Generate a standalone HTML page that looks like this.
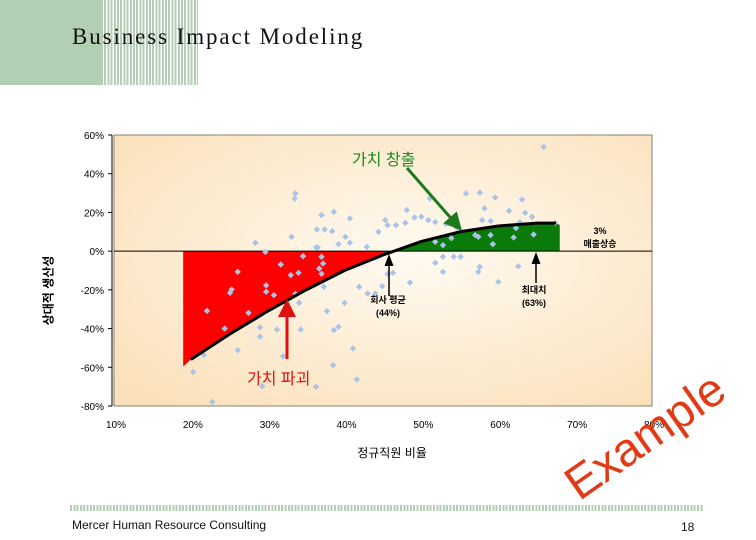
<!DOCTYPE html>
<html><head><meta charset="utf-8">
<style>
body{margin:0;width:756px;height:540px;background:#fff;overflow:hidden;position:relative;font-family:"Liberation Sans","Noto Sans CJK KR",sans-serif}
.abs{position:absolute}
</style></head>
<body>
<div class="abs" style="left:0;top:0;width:101px;height:85px;background:#b3cfb3"></div>
<div class="abs" style="left:101px;top:0;width:97px;height:85px;background:repeating-linear-gradient(90deg,#b3cfb3 0 2px,#fff 2px 3.2px)"></div>
<div class="abs" style="left:72px;top:24px;font-family:'Liberation Serif','Noto Serif CJK SC',serif;font-size:23px;color:#111;letter-spacing:1.9px">Business Impact Modeling</div>

<svg class="abs" style="left:0;top:0" width="756" height="540">
<defs>
<radialGradient id="bg" cx="0.55" cy="0.45" r="0.7">
<stop offset="0" stop-color="#fffaf1"/><stop offset="1" stop-color="#fbe1bb"/>
</radialGradient>
<marker id="ak" markerWidth="8" markerHeight="8" refX="4" refY="4" orient="auto"><path d="M0,1 L8,4 L0,7Z" fill="#000"/></marker>
<marker id="ag" markerWidth="6" markerHeight="6" refX="3" refY="3" orient="auto"><path d="M0,0 L6,3 L0,6Z" fill="#1a7a1a"/></marker>
<marker id="ar" markerWidth="6" markerHeight="6" refX="3" refY="3" orient="auto"><path d="M0,0 L6,3 L0,6Z" fill="#e01010"/></marker>
</defs>
<g id="g"></g>
</svg>

<div class="abs" style="left:-2px;top:282px;width:100px;text-align:center;transform:rotate(-90deg);font-size:12px;font-weight:bold;color:#000">상대적 생산성</div>
<div class="abs" style="left:342px;top:444px;width:100px;text-align:center;font-size:12px;color:#000">정규직원 비율</div>

<div class="abs" style="left:352px;top:146px;font-size:16px;color:#1a8a1a">가치 창출</div>
<div class="abs" style="left:247px;top:365px;font-size:16px;color:#e01010">가치 파괴</div>
<div class="abs" style="left:358px;top:294px;width:60px;text-align:center;font-size:9px;font-weight:bold;line-height:13px">회사 평균<br>(44%)</div>
<div class="abs" style="left:504px;top:284px;width:60px;text-align:center;font-size:9px;font-weight:bold;line-height:13px">최대치<br>(63%)</div>
<div class="abs" style="left:570px;top:225px;width:60px;text-align:center;font-size:9px;font-weight:bold;line-height:13px">3%<br>매출상승</div>

<div class="abs" style="left:525px;top:410px;width:240px;text-align:center;font-size:47px;color:#e23a14;transform:rotate(-35deg);line-height:52px">Example</div>

<div class="abs" style="left:70px;top:505px;width:633px;height:6px;background:repeating-linear-gradient(90deg,#b3cfb3 0 2px,#fff 2px 3.3px)"></div>
<div class="abs" style="left:72px;top:518px;font-size:12px;color:#111">Mercer Human Resource Consulting</div>
<div class="abs" style="left:681px;top:520px;font-size:12px;color:#111">18</div>

<script>
const xTicks=[10,20,30,40,50,60,70,80];
const yTicks=[60,40,20,0,-20,-40,-60,-80];
const curveX=[20,25,30,35,40,45,50,55,60,65,67.5];
const curveY=[-56,-43,-31,-20,-10,-2,5,10,13,14.5,14.5];
const redStart=19, redEnd=45, greenStart=45, greenEnd=68;
const ptsX=[65.9,33.6,33.5,37.0,38.6,40.7,36.4,37.4,38.4,33.1,28.4,29.7,40.1,39.2,36.5,40.7,42.9,44.4,45.3,45.6,46.7,47.9,48.1,49.1,50.0,50.9,51.8,51.1,53.2,54.6,55.8,57.6,59.6,63.1,58.2,61.4,63.5,64.4,57.9,59.0,62.8,62.3,67.4,57.4,59.0,62.0,64.6,57.0,59.3,53.9,52.8,51.8,54.2,55.1,52.8,51.8,52.8,57.6,57.4,60.0,62.6,48.5,46.3,45.6,44.9,44.0,43.0,41.9,41.6,41.1,40.0,39.2,38.6,38.5,37.7,37.3,37.0,37.2,37.0,36.7,36.3,34.3,34.1,33.6,34.0,34.6,33.0,31.7,31.2,30.8,29.8,29.8,29.0,29.0,29.3,32.0,27.5,26.1,25.1,25.3,24.4,22.1,21.7,20.3,22.8,26.1,36.3];
const ptsY=[53.9,29.8,27.2,18.6,20.3,16.9,11.2,11.2,10.3,7.4,4.3,-0.4,7.4,3.6,1.9,4.3,2.2,10.0,16.0,13.4,13.4,14.6,21.2,17.4,17.7,16.0,15.0,27.2,14.0,12.0,29.8,30.2,27.7,26.6,22.1,20.8,19.8,17.7,16.0,15.6,15.0,11.9,14.6,7.4,8.3,7.1,8.6,8.3,3.6,6.7,3.1,4.8,-2.9,-2.9,-2.9,-6.0,-10.7,-8.1,-10.7,-15.9,-7.8,-16.2,-11.2,-11.7,-18.1,-21.9,-21.9,-18.4,-66.3,-50.3,-26.7,-39.1,-40.8,-58.9,-31.0,-18.4,-11.7,-6.4,-2.9,-9.0,-70.1,-40.5,-26.7,-22.1,-11.2,-2.6,-12.4,-6.9,-40.5,-22.7,-21.0,-17.7,-39.4,-44.2,-69.8,-54.3,-31.9,-10.7,-21.5,-19.8,-40.0,-30.9,-53.7,-62.4,-77.9,-51.2,1.9];

const L=114,R=652,T=135,B=406;
const sx=v=>L+(v-10)*(R-L)/70;
const sy=v=>T+(60-v)*(B-T)/140;
const NS='http://www.w3.org/2000/svg';
const g=document.getElementById('g');
function mk(t,a,p){const e=document.createElementNS(NS,t);for(const k in a)e.setAttribute(k,a[k]);(p||g).appendChild(e);return e;}
function interp(x){for(let i=0;i<curveX.length-1;i++){if(x<=curveX[i+1]){const t=(x-curveX[i])/(curveX[i+1]-curveX[i]);return curveY[i]+t*(curveY[i+1]-curveY[i]);}}return curveY[curveY.length-1];}

const bg=mk('rect',{x:L,y:T,width:R-L,height:B-T,fill:'url(#bg)',stroke:'#8a8070','stroke-width':1});



let rp=`M${sx(redStart)},${sy(0)} L${sx(redStart)},${sy(interp(redStart)-1)}`;
for(let i=0;i<curveX.length;i++){if(curveX[i]<redEnd)rp+=` L${sx(curveX[i])},${sy(curveY[i])}`;}
rp+=` L${sx(redEnd)},${sy(interp(redEnd))} L${sx(redEnd)},${sy(0)}Z`;
const red=mk('path',{d:rp,fill:'#ff0000'});


let gp=`M${sx(greenStart)},${sy(0)} L${sx(greenStart)},${sy(interp(greenStart))}`;
for(let i=0;i<curveX.length;i++){if(curveX[i]>greenStart)gp+=` L${sx(curveX[i])},${sy(curveY[i])}`;}
gp+=` L${sx(greenEnd)},${sy(interp(greenEnd)-1)} L${sx(greenEnd)},${sy(0)}Z`;
const grn=mk('path',{d:gp,fill:'#0a7a0a'});



const zl=mk('line',{x1:L,x2:R,y1:sy(0),y2:sy(0),stroke:'#000','stroke-width':1});



for(let i=0;i<ptsX.length;i++){const cx=sx(ptsX[i]),cy=sy(ptsY[i]);
const p=mk('path',{d:`M${cx},${cy-3.2} L${cx+3.2},${cy} L${cx},${cy+3.2} L${cx-3.2},${cy}Z`,fill:'#a9c4e8'});

}

let cp='';for(let i=0;i<curveX.length;i++)cp+=(i?' L':'M')+sx(curveX[i])+','+sy(curveY[i]);
const cv=mk('path',{d:cp,fill:'none',stroke:'#000','stroke-width':3,'stroke-linejoin':'round'});



const ya=mk('line',{x1:L-2,x2:L-2,y1:T,y2:B,stroke:'#000'});


yTicks.forEach(v=>{mk('line',{x1:L-6,x2:L-2,y1:sy(v),y2:sy(v),stroke:'#000'});
const t=mk('text',{x:L-10,y:sy(v)+4,'text-anchor':'end','font-size':10,fill:'#000'});t.textContent=v+'%';

});
xTicks.forEach(v=>{const t=mk('text',{x:sx(v)+2,y:B+22,'text-anchor':'middle','font-size':10,fill:'#000'});t.textContent=v+'%';

});

const a1=mk('line',{x1:407,y1:168,x2:456,y2:224,stroke:'#1a7a1a','stroke-width':3,'marker-end':'url(#ag)'});


const a2=mk('line',{x1:287,y1:359,x2:287,y2:308,stroke:'#e01010','stroke-width':3,'marker-end':'url(#ar)'});


const a3=mk('line',{x1:389,y1:296,x2:389,y2:260,stroke:'#000','stroke-width':1.5,'marker-end':'url(#ak)'});


const a4=mk('line',{x1:536,y1:283,x2:536,y2:258,stroke:'#000','stroke-width':1.5,'marker-end':'url(#ak)'});


</script>
</body></html>
